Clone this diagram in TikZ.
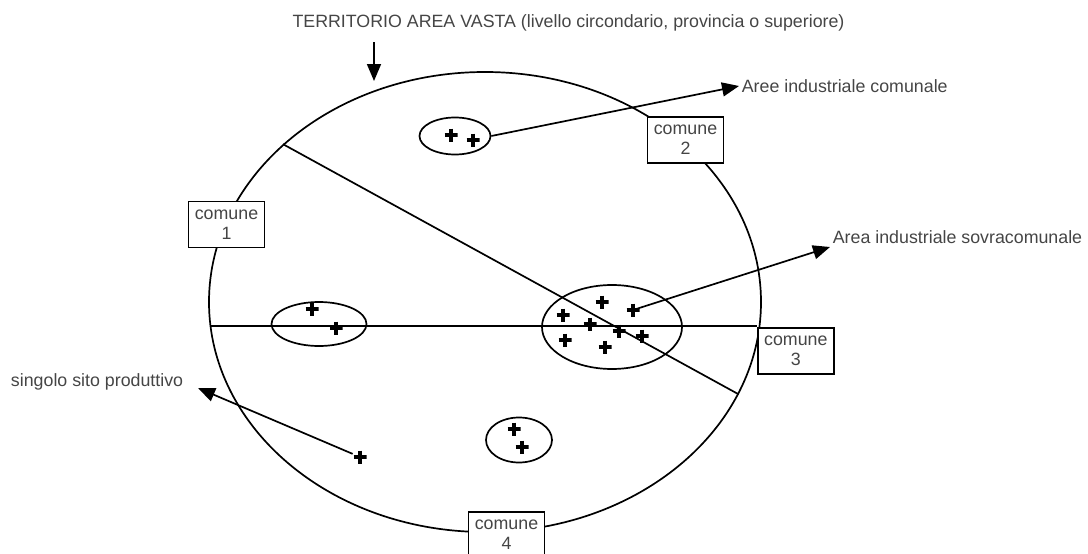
\documentclass[tikz,border=0pt]{standalone}
\usepackage{fontspec}
\setmainfont{Liberation Sans}
\usetikzlibrary{arrows.meta,shapes}
\definecolor{grigio}{HTML}{454545}

\begin{document}
\begin{tikzpicture}[x=1pt,y=-1pt,line width=1.7pt,>={Triangle[length=17pt,width=14pt]},
  testo/.style={font=\fontsize{17.8}{20}\selectfont,text=grigio,inner sep=2pt},
  comune/.style={draw,fill=white,testo,align=center,minimum width=76pt,minimum height=46pt,inner sep=1pt},
  zona/.style={draw,ellipse,inner sep=0pt},
  sito/.style={inner sep=0pt,minimum size=13pt,path picture={\draw[line width=3.2pt] (path picture bounding box.west) -- (path picture bounding box.east) (path picture bounding box.north) -- (path picture bounding box.south);}}]
  \useasboundingbox (0,0) rectangle (1088,554);
  \node[zona,minimum width=552pt,minimum height=460pt] (terr) at (485,302) {};
  \draw (terr.142.1) -- (terr.340.4);

  \node[zona,minimum width=71pt,minimum height=37pt]  (ecom)   at (455,136) {};
  \node[zona,minimum width=95pt,minimum height=44pt]  (esx)    at (319,324) {};
  \node[zona,minimum width=140pt,minimum height=84pt] (esovra) at (612,327) {};
  \node[zona,minimum width=66pt,minimum height=45pt]  (ebasso) at (519,440) {};

  \node[sito] (c1) at (451,135) {};
  \node[sito] (c2) at (473,140) {};
  \node[sito] (l1) at (312,309) {};
  \node[sito] (l2) at (336,328) {};
  \node[sito] (s1) at (602,302) {};
  \node[sito] (s2) at (633,310) {};
  \node[sito] (s3) at (563,315) {};
  \node[sito] (s4) at (590,324) {};
  \node[sito] (s5) at (619,331) {};
  \node[sito] (s6) at (642,336) {};
  \node[sito] (s7) at (565,340) {};
  \node[sito] (s8) at (605,347) {};
  \node[sito] (b1) at (514,429) {};
  \node[sito] (b2) at (522,447) {};
  \node[sito] (singolo) at (360,457) {};

  \node[comune] (com1) at (226.5,224.5) {comune\\1};
  \node[comune] (com2) at (685.5,140) {comune\\2};
  \node[comune,anchor=north west] (com3) at (757,327) {comune\\3};
  \node[comune] (com4) at (506.5,535) {comune\\4};
  \draw (terr.185.2) -- (terr.185.2 -| com3.west);

  \node[testo] (titolo) at (568.5,23) {TERRITORIO AREA VASTA (livello circondario, provincia o superiore)};
  \node[testo,anchor=west] (aic) at (739,86) {Aree industriale comunale};
  \node[testo,anchor=south west] (asc) at (830,247) {Area industriale sovracomunale};
  \node[testo,anchor=east] (ssp) at (186,382) {singolo sito produttivo};

  \coordinate (freccia) at (374,42);
  \coordinate (punta) at (374,81);
  \draw[->] (freccia) -- (punta);
  \draw[->] (ecom.east) -- (aic.west);
  \draw[->] (s2.center) -- (asc.south west);
  \draw[->] (singolo) -- ([shift={(12,6)}]ssp.east);
\end{tikzpicture}
\end{document}
